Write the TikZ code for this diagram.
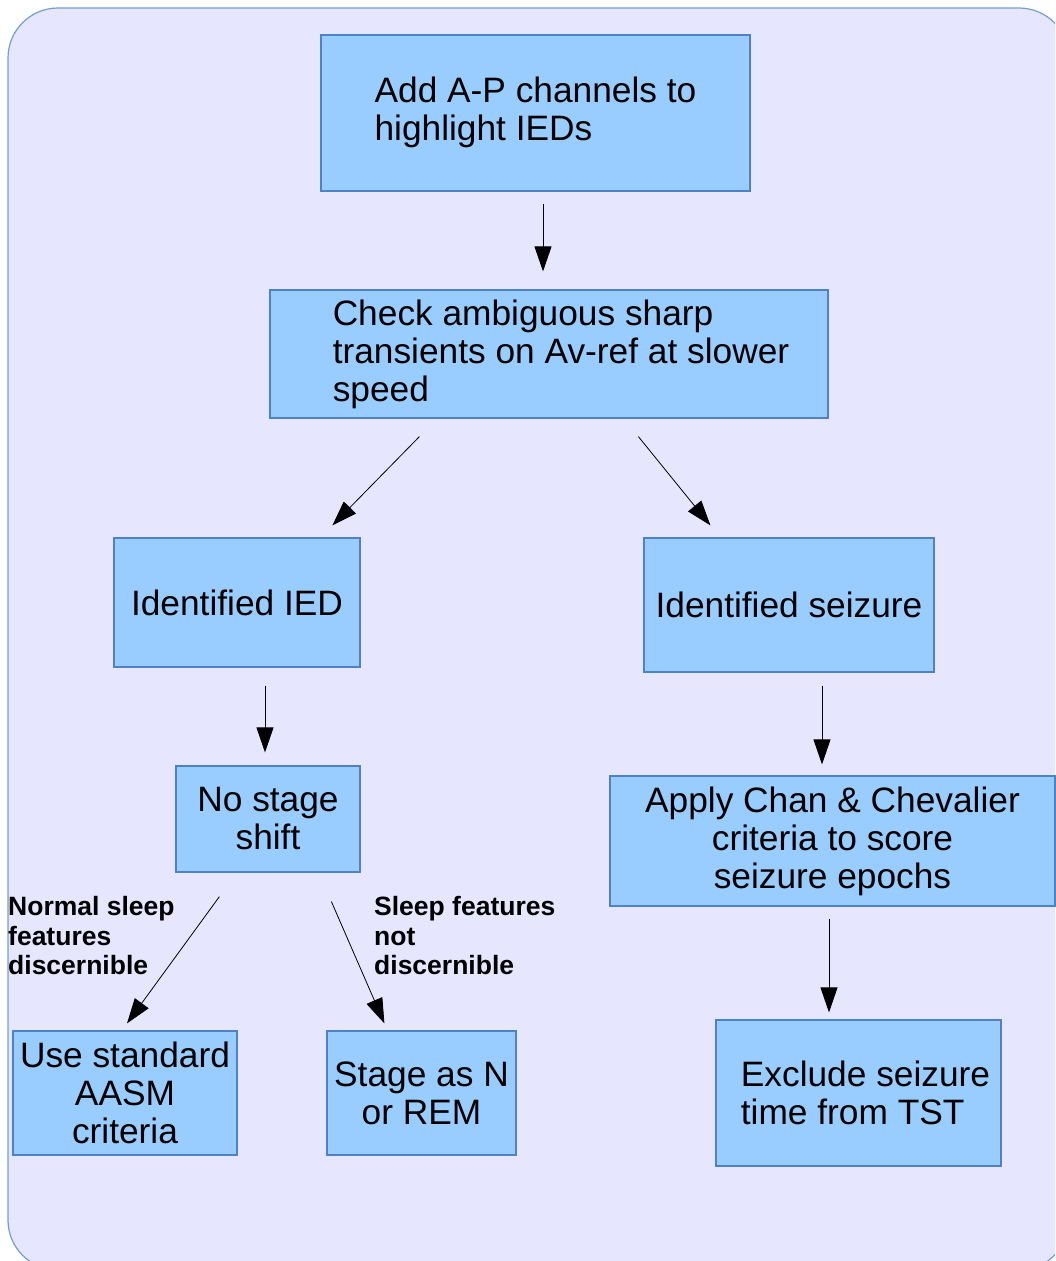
\documentclass[tikz,border=0pt]{standalone}
\usepackage{fontspec}
\setmainfont{Liberation Sans}
\usetikzlibrary{arrows.meta}
\definecolor{boxfill}{HTML}{99CCFF}
\definecolor{boxline}{HTML}{4F81C7}
\definecolor{backfill}{HTML}{E6E6FF}
\definecolor{backline}{HTML}{729FCF}

\begin{document}
\begin{tikzpicture}[x=1pt,y=-1pt,
    main node/.style={draw=boxline,fill=boxfill,line width=1.2pt,inner sep=0pt,align=center,font=\fontsize{35.3}{38}\selectfont},
    note node/.style={inner sep=0pt,align=left,anchor=west,font=\fontsize{26.5}{29.5}\selectfont\bfseries},
    arr/.style={-{Triangle[length=25pt,width=17pt]},line width=0.8pt,black}]
    \useasboundingbox (0,0) rectangle (1055,1261);
    \begin{scope}
        \clip (0,0) rectangle (1055,1261);
        \draw[fill=backfill,draw=backline,line width=1.2pt,rounded corners=50pt] (8,8) rectangle (1069,1270);
    \end{scope}

    \node[main node,minimum width=429pt,minimum height=156pt,align=left] (add) at (535.5,113) {Add A-P channels to\\highlight IEDs\rule[-8pt]{0pt}{0pt}};
    \node[main node,minimum width=558pt,minimum height=128pt,align=left] (check) at (549,354) {\hspace*{24pt}Check ambiguous sharp\\\hspace*{24pt}transients on Av-ref at slower\\\hspace*{24pt}speed};
    \node[main node,minimum width=246pt,minimum height=129pt] (ied) at (237,602.5) {Identified IED};
    \node[main node,minimum width=290pt,minimum height=134pt] (seizure) at (789,605) {Identified seizure};
    \node[main node,minimum width=184pt,minimum height=106pt] (nostage) at (268,819) {No stage\\shift};
    \node[main node,minimum width=445pt,minimum height=130pt] (apply) at (832.5,841) {Apply Chan \& Chevalier\\criteria to score\\seizure epochs};
    \node[main node,minimum width=224pt,minimum height=124pt] (aasm) at (125,1093) {Use standard\\AASM\\criteria};
    \node[main node,minimum width=189pt,minimum height=124pt] (stagen) at (421.5,1093) {Stage as N\\or REM};
    \node[main node,minimum width=285pt,minimum height=146pt,align=left] (exclude) at (858.5,1093) {\hspace*{14pt}Exclude seizure\\\hspace*{14pt}time from TST};

    \node[note node] (normal) at (8,936) {Normal sleep\\features\\discernible};
    \node[note node] (notdisc) at (374,936) {Sleep features\\not\\discernible};

    \path[arr]
        ([xshift=7.5pt,yshift=-12pt]add.south) edge ([xshift=-6pt,yshift=18pt]check.north)
        ([xshift=150pt,yshift=-18pt]check.south west) edge ([xshift=219pt,yshift=12pt]ied.north west)
        ([xshift=369pt,yshift=-18pt]check.south west) edge ([xshift=67pt,yshift=12pt]seizure.north west)
        ([xshift=28pt,yshift=-18pt]ied.south) edge ([xshift=-3pt,yshift=13pt]nostage.north)
        ([xshift=33pt,yshift=-13pt]seizure.south) edge ([xshift=-10.5pt,yshift=11pt]apply.north)
        ([xshift=44pt,yshift=-24pt]nostage.south west) edge ([xshift=2pt,yshift=7pt]aasm.north)
        ([xshift=156pt,yshift=-29pt]nostage.south west) edge ([xshift=58pt,yshift=7pt]stagen.north west)
        ([xshift=-3.5pt,yshift=-12pt]apply.south) edge ([xshift=-29.5pt,yshift=7pt]exclude.north)
    ;
\end{tikzpicture}
\end{document}
